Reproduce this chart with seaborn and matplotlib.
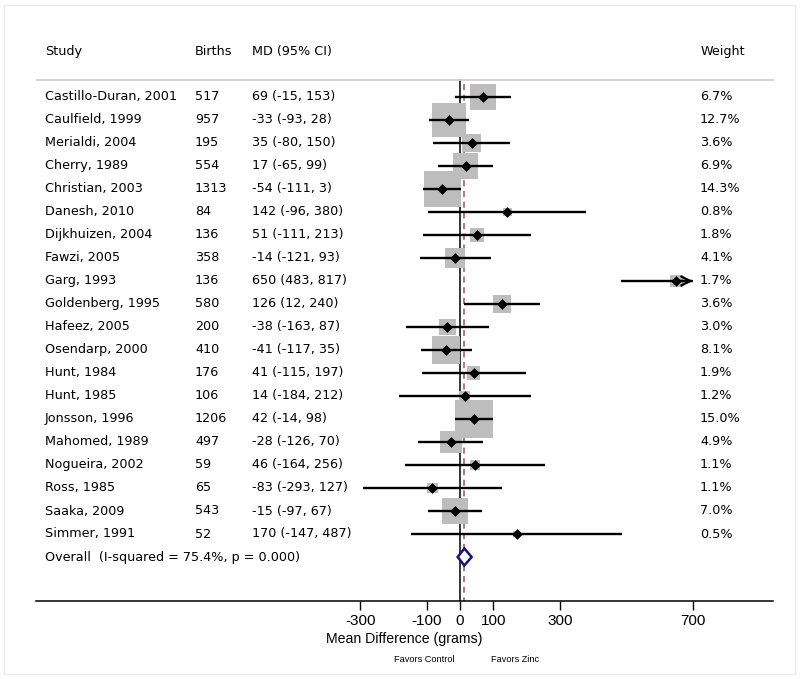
"""
Forest plot: zinc supplementation and birth weight (mean difference)
"""
import matplotlib
matplotlib.use("Agg")
import matplotlib.pyplot as plt
import numpy as np
import pandas as pd
import seaborn as sns

# ---- data ----
studies = ["Castillo-Duran, 2001", "Caulfield, 1999", "Merialdi, 2004", "Cherry, 1989",
           "Christian, 2003", "Danesh, 2010", "Dijkhuizen, 2004", "Fawzi, 2005",
           "Garg, 1993", "Goldenberg, 1995", "Hafeez, 2005", "Osendarp, 2000",
           "Hunt, 1984", "Hunt, 1985", "Jonsson, 1996", "Mahomed, 1989",
           "Nogueira, 2002", "Ross, 1985", "Saaka, 2009", "Simmer, 1991"]
births = [517, 957, 195, 554, 1313, 84, 136, 358, 136, 580,
          200, 410, 176, 106, 1206, 497, 59, 65, 543, 52]
md = [69, -33, 35, 17, -54, 142, 51, -14, 650, 126,
      -38, -41, 41, 14, 42, -28, 46, -83, -15, 170]
ci_lo = [-15, -93, -80, -65, -111, -96, -111, -121, 483, 12,
         -163, -117, -115, -184, -14, -126, -164, -293, -97, -147]
ci_hi = [153, 28, 150, 99, 3, 380, 213, 93, 817, 240,
         87, 35, 197, 212, 98, 70, 256, 127, 67, 487]
weights = [6.7, 12.7, 3.6, 6.9, 14.3, 0.8, 1.8, 4.1, 1.7, 3.6,
           3.0, 8.1, 1.9, 1.2, 15.0, 4.9, 1.1, 1.1, 7.0, 0.5]

overall_md = 13
overall_lo = -7
overall_hi = 35
overall_label = "Overall  (I-squared = 75.4%, p = 0.000)"

xticks = [-300, -100, 0, 100, 300, 700]
x_clip = 700

df = pd.DataFrame({"study": studies, "births": births, "md": md,
                   "lo": ci_lo, "hi": ci_hi, "weight": weights})
df["row"] = np.arange(len(df))


# ---- pixel layout helpers (figure is 800x679 px, axes fill it) ----
W, H = 800, 679
X0_PX, X_SCALE = 460.0, 0.3326     # px of 0 g, px per gram
Y0_PX, Y_STEP = 97.0, 23.0         # px of first row, px per row


def px2x(px):
    return (px - X0_PX) / X_SCALE


def px2y(px):
    return (px - Y0_PX) / Y_STEP


sns.set_style("white")
plt.rcParams["font.family"] = ["DejaVu Sans"]
plt.rcParams["text.color"] = "black"
plt.rcParams["xtick.color"] = "black"
plt.rcParams["axes.edgecolor"] = "black"

fig = plt.figure(figsize=(W / 100, H / 100), dpi=100)
ax = fig.add_axes([0, 0, 1, 1])
ax.set_xlim(px2x(0), px2x(W))
ax.set_ylim(px2y(H), px2y(0))

# faint frame around the whole picture
fig.patches.append(plt.Rectangle((4 / W, 5 / H), 791 / W, 669 / H, transform=fig.transFigure,
                                 fill=False, edgecolor="#ececec", lw=1.0))

overall_row = len(df)
axis_y = px2y(601)

# reference lines
ax.vlines(0, px2y(79), axis_y, color="black", lw=1.1, zorder=1)
ax.vlines(overall_md, px2y(84), axis_y, color="#9a5070", lw=1.1,
          linestyles=(0, (4, 3)), zorder=1)

# header separator
ax.hlines(px2y(80), px2x(36), px2x(774), color="#d0d0d0", lw=1.3, zorder=1)

# weight boxes (area ~ weight)
k = 49.5
sns.scatterplot(data=df, x="md", y="row", size="weight",
                sizes=(k * df.weight.min(), k * df.weight.max()),
                size_norm=(df.weight.min(), df.weight.max()),
                marker="s", color="#bdbdbd", linewidth=0, legend=False,
                ax=ax, zorder=2)

# confidence intervals
hi_draw = np.minimum(df.hi, x_clip)
ax.hlines(df.row, df.lo, hi_draw, color="black", lw=1.7, zorder=3)
for _, r in df[df.hi > x_clip].iterrows():
    ax.annotate("", xy=(x_clip, r.row), xytext=(x_clip - 60, r.row),
                arrowprops=dict(arrowstyle="->", lw=1.7, color="black",
                                mutation_scale=16, shrinkA=0, shrinkB=0), zorder=3)

# point estimates
sns.scatterplot(data=df, x="md", y="row", marker="D", s=30, color="black",
                linewidth=0, legend=False, ax=ax, zorder=4)

# overall diamond
h = 0.37
ax.fill([overall_lo, overall_md, overall_hi, overall_md],
        [overall_row, overall_row - h, overall_row, overall_row + h],
        facecolor="white", edgecolor="#14147a", lw=1.8, zorder=4)

# ---- text columns ----
fs = 9.2
hy = px2y(52)
ax.text(px2x(45), hy, "Study", fontsize=fs, va="center")
ax.text(px2x(195), hy, "Births", fontsize=fs, va="center")
ax.text(px2x(252), hy, "MD (95% CI)", fontsize=fs, va="center")
ax.text(px2x(701), hy, "Weight", fontsize=fs, va="center")

for _, r in df.iterrows():
    ax.text(px2x(45), r.row, r.study, fontsize=fs, va="center")
    ax.text(px2x(195), r.row, str(r.births), fontsize=fs, va="center")
    ax.text(px2x(252), r.row, f"{r.md} ({r.lo}, {r.hi})", fontsize=fs, va="center")
    ax.text(px2x(700), r.row, f"{r.weight:.1f}%", fontsize=fs, va="center")
ax.text(px2x(45), overall_row, overall_label, fontsize=fs, va="center")

# ---- x axis ----
for s in ["top", "left", "right"]:
    ax.spines[s].set_visible(False)
ax.spines["bottom"].set_position(("data", axis_y))
ax.spines["bottom"].set_bounds(px2x(36), px2x(773))
ax.spines["bottom"].set_linewidth(1.1)
ax.spines["bottom"].set_color("black")
ax.set_xticks(xticks)
ax.set_xticklabels([str(t) for t in xticks], family="Liberation Sans", fontsize=11)
ax.tick_params(axis="x", direction="out", length=6.5, width=1.0, pad=3, bottom=True,
               color="black", labelcolor="black")
ax.set_yticks([])
ax.set_xlabel("")
ax.set_ylabel("")

ax.text(px2x(404), px2y(639), "Mean Difference (grams)", family="Liberation Sans",
        fontsize=10.2, ha="center", va="center")
ax.text(px2x(424), px2y(660), "Favors Control", family="Liberation Sans",
        fontsize=6.6, ha="center", va="center")
ax.text(px2x(515), px2y(660), "Favors Zinc", family="Liberation Sans",
        fontsize=6.6, ha="center", va="center")

fig.savefig("out.png", dpi=100)
